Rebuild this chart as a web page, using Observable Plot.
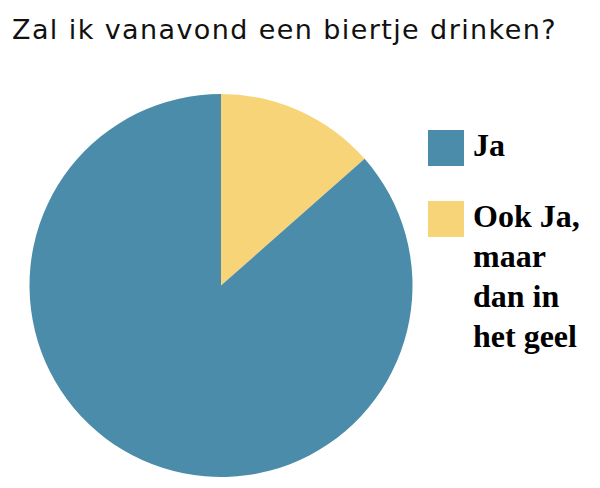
<!DOCTYPE html>
<html>
<head>
<meta charset="utf-8">
<script src="https://cdn.jsdelivr.net/npm/d3@7"></script>
<script src="https://cdn.jsdelivr.net/npm/@observablehq/plot@0.6"></script>
<style>
  html, body { margin: 0; padding: 0; background: #fff; }
  #wrap { position: relative; width: 600px; height: 488px; overflow: hidden; }
  #title { position: absolute; left: 12px; top: 14px; font-family: "DejaVu Sans", sans-serif; font-size: 27px; line-height: 32px; letter-spacing: 1.4px; color: #111; white-space: nowrap; }
  #chart { position: absolute; left: 0; top: 60px; }
  .leg { position: absolute; left: 428px; display: flex; align-items: flex-start; }
  .sw { width: 36px; height: 36px; flex: none; }
  .lt { margin-left: 9px; font-family: "Liberation Serif", serif; font-weight: bold; font-size: 32px; line-height: 40px; color: #000; }
</style>
</head>
<body>
<div id="wrap">
  <div id="title">Zal ik vanavond een biertje drinken?</div>
  <div id="chart"></div>
</div>
<script>
const categories = ["Ja", "Ook Ja, maar dan in het geel"];
const legendLines = [["Ja"], ["Ook Ja,", "maar", "dan in", "het geel"]];
const values = [86.5, 13.5];
const colors = ["#4a8ca9", "#f7d478"];

const data = categories.map((c, i) => ({category: c, value: values[i]}));

const cy = 285.5 - 60;
const r = 191.5;

const pieMark = (index, scales, vals, dims, context) => {
  const x = scales.x, y = scales.y, color = scales.color;
  const R = x(1) - x(0);
  const pie = d3.pie().sort(null).value(d => d.value);
  const arcs = pie(data.slice().reverse());
  const arc = d3.arc().innerRadius(0).outerRadius(R);
  const g = d3.create("svg:g").attr("transform", `translate(${x(0)},${y(0)})`);
  g.selectAll("path").data(arcs).join("path")
    .attr("d", arc)
    .attr("fill", d => color(d.data.category));
  return g.node();
};

const plot = Plot.plot({
  width: 440,
  height: 428,
  margin: 0,
  x: {domain: [-1, 1], range: [221 - r, 221 + r], axis: null},
  y: {domain: [-1, 1], range: [cy + r, cy - r], axis: null},
  color: {domain: categories, range: colors},
  marks: [pieMark]
});
document.getElementById("chart").appendChild(plot);

const wrap = document.getElementById("wrap");
const tops = [130, 201];
legendLines.forEach((lines, i) => {
  const row = document.createElement("div");
  row.className = "leg";
  row.style.top = tops[i] + "px";
  const sw = document.createElement("div");
  sw.className = "sw";
  sw.style.background = colors[i];
  const lt = document.createElement("div");
  lt.className = "lt";
  lt.innerHTML = lines.join("<br>");
  lt.style.marginTop = "-5px";
  row.appendChild(sw);
  row.appendChild(lt);
  wrap.appendChild(row);
});
</script>
</body>
</html>
